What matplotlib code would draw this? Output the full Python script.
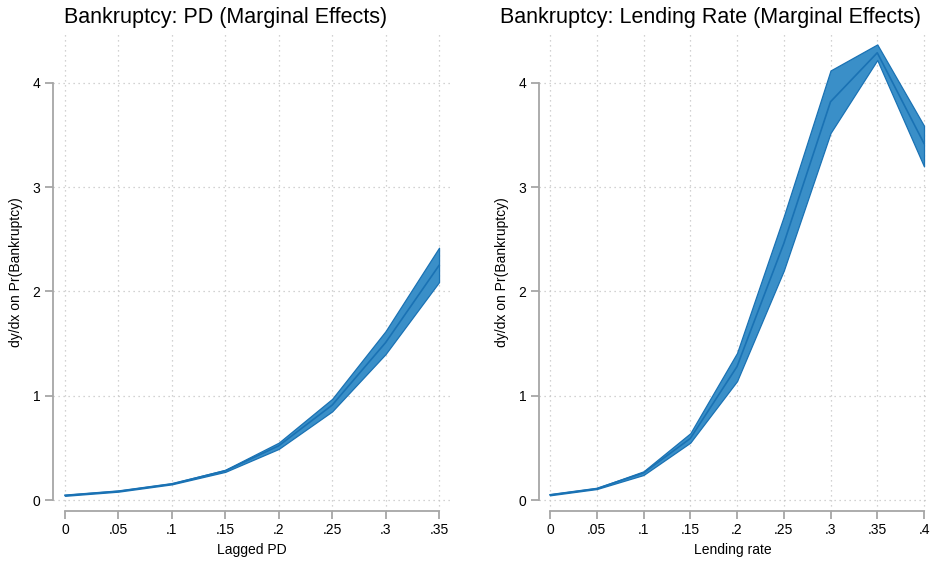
import matplotlib
matplotlib.use("Agg")
import matplotlib.pyplot as plt

plt.rcParams["font.family"] = ["Liberation Sans", "DejaVu Sans"]

# ── data ──────────────────────────────────────────────────────────────────
pd_x = [0, .05, .1, .15, .2, .25, .3, .35]
pd_mean = [0.045, 0.085, 0.155, 0.28, 0.52, 0.91, 1.51, 2.25]
pd_lo = [0.04, 0.08, 0.15, 0.27, 0.49, 0.85, 1.40, 2.09]
pd_hi = [0.05, 0.09, 0.16, 0.29, 0.55, 0.97, 1.62, 2.42]
pd_ticks = [0, .05, .1, .15, .2, .25, .3, .35]
pd_ticklabels = ["0", ".05", ".1", ".15", ".2", ".25", ".3", ".35"]

lr_x = [0, .05, .1, .15, .2, .25, .3, .35, .4]
lr_mean = [0.05, 0.11, 0.26, 0.59, 1.28, 2.46, 3.82, 4.29, 3.42]
lr_lo = [0.045, 0.105, 0.24, 0.55, 1.14, 2.20, 3.52, 4.22, 3.20]
lr_hi = [0.055, 0.115, 0.275, 0.64, 1.41, 2.72, 4.12, 4.37, 3.59]
lr_ticks = [0, .05, .1, .15, .2, .25, .3, .35, .4]
lr_ticklabels = ["0", ".05", ".1", ".15", ".2", ".25", ".3", ".35", ".4"]

y_ticks = [0, 1, 2, 3, 4]

FILL = "#3a8fc8"
LINE = "#1a72b4"
AXIS = "#a6a6a6"
W, H = 932, 561


def panel(rect, x, mean, lo, hi, ticks, labels, xlim, xlabel):
    l, r, t, b = rect
    ax = fig.add_axes([l / W, 1 - b / H, (r - l) / W, (b - t) / H])
    ax.fill_between(x, lo, hi, facecolor=FILL, edgecolor=LINE, lw=0.9, zorder=2)
    ax.plot(x, mean, color=LINE, lw=1.2, zorder=3)
    ax.set_xlim(*xlim)
    ax.set_ylim(-0.1055, 4.47)
    ax.set_xticks(ticks)
    ax.set_xticklabels(labels)
    ax.set_yticks(y_ticks)
    ax.grid(True, color="#c4c4c4", ls=(0, (1, 3)), lw=0.9, zorder=0)
    for s in ("top", "right"):
        ax.spines[s].set_visible(False)
    for s in ("left", "bottom"):
        ax.spines[s].set_color(AXIS)
        ax.spines[s].set_linewidth(1.3)
    ax.spines["bottom"].set_bounds(ticks[0], ticks[-1])
    ax.spines["left"].set_bounds(0, 4)
    ax.tick_params(colors=AXIS, labelcolor="black", length=6, width=1.3,
                   labelsize=10, pad=3)
    ax.set_xlabel(xlabel, fontsize=10, labelpad=4)
    ax.set_ylabel("dy/dx on Pr(Bankruptcy)", fontsize=10, labelpad=7)
    return ax


fig = plt.figure(figsize=(W / 100, H / 100), dpi=100)
fig.patch.set_facecolor("white")

panel((53, 451, 34, 511), pd_x, pd_mean, pd_lo, pd_hi, pd_ticks, pd_ticklabels,
      (-0.0112, 0.3612), "Lagged PD")
panel((539, 927, 34, 511), lr_x, lr_mean, lr_lo, lr_hi, lr_ticks, lr_ticklabels,
      (-0.0118, 0.4032), "Lending rate")

fig.text(226 / W, 1 - 18 / H, "Bankruptcy: PD (Marginal Effects)",
         ha="center", va="center", fontsize=15.5)
fig.text(710 / W, 1 - 18 / H, "Bankruptcy: Lending Rate (Marginal Effects)",
         ha="center", va="center", fontsize=15.5)

fig.savefig("out.png", dpi=100)
